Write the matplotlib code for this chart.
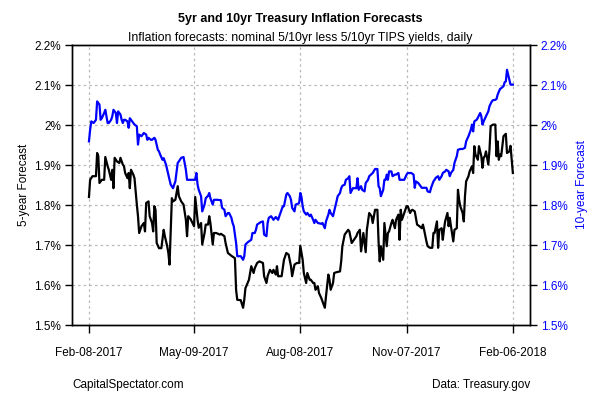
import numpy as np
import matplotlib
matplotlib.use("Agg")
import matplotlib.pyplot as plt
import matplotlib.dates as mdates
from matplotlib.ticker import FuncFormatter

plt.rcParams['font.family'] = ['Liberation Sans', 'DejaVu Sans']

start_date = np.datetime64('2017-02-08')

# 5-year forecast: day offsets from start and values (%)
days_5y = [0, 1, 3, 6, 7, 8, 9, 11, 13, 14, 16, 17, 19, 20, 21, 22, 24, 26, 27, 29,
           30, 31, 33, 34, 35, 36, 38, 39, 41, 42, 43, 45, 47, 48, 49, 51, 52, 54, 55, 56,
           57, 58, 60, 62, 64, 65, 67, 68, 69, 71, 72, 74, 76, 77, 79, 81, 83, 84, 85, 87,
           90, 91, 93, 94, 96, 97, 99, 100, 102, 103, 104, 106, 107, 109, 112, 113, 116, 117, 119, 122,
           125, 126, 127, 130, 132, 133, 134, 137, 139, 141, 142, 144, 146, 149, 150, 152, 153, 155, 157, 158,
           160, 161, 162, 165, 167, 169, 171, 173, 174, 176, 178, 180, 181, 183, 184, 186, 187, 189, 190, 192,
           193, 194, 196, 197, 199, 200, 202, 203, 205, 206, 207, 209, 210, 212, 215, 216, 217, 219, 222, 223,
           225, 226, 229, 230, 232, 233, 234, 235, 237, 238, 240, 242, 243, 245, 247, 248, 249, 250, 252, 253,
           255, 256, 257, 259, 260, 262, 263, 265, 266, 267, 268, 270, 272, 273, 275, 276, 277, 279, 281, 283,
           285, 286, 287, 289, 290, 292, 294, 295, 296, 298, 299, 300, 302, 303, 304, 305, 307, 308, 309, 310,
           312, 313, 315, 316, 317, 318, 320, 321, 322, 323, 325, 326, 328, 329, 330, 331, 333, 334, 336, 337,
           338, 339, 340, 342, 343, 344, 346, 348, 349, 350, 351, 352, 353, 355, 357, 358, 360, 361, 362, 363]
vals_5y = [1.820, 1.863, 1.872, 1.872, 1.930, 1.922, 1.855, 1.863, 1.863, 1.920, 1.897, 1.888, 1.863, 1.888, 1.842, 1.918, 1.909, 1.905, 1.918, 1.901,
           1.897, 1.880, 1.867, 1.880, 1.842, 1.888, 1.876, 1.867, 1.801, 1.772, 1.730, 1.747, 1.755, 1.734, 1.805, 1.809, 1.772, 1.755, 1.734, 1.797,
           1.788, 1.705, 1.692, 1.692, 1.738, 1.722, 1.697, 1.680, 1.651, 1.817, 1.809, 1.813, 1.847, 1.822, 1.809, 1.801, 1.763, 1.722, 1.772, 1.765,
           1.747, 1.820, 1.763, 1.743, 1.755, 1.701, 1.730, 1.751, 1.751, 1.772, 1.755, 1.701, 1.730, 1.730, 1.726, 1.728, 1.722, 1.705, 1.680, 1.673,
           1.667, 1.588, 1.563, 1.562, 1.543, 1.563, 1.592, 1.613, 1.647, 1.630, 1.642, 1.655, 1.659, 1.655, 1.622, 1.605, 1.622, 1.638, 1.630, 1.638,
           1.626, 1.647, 1.622, 1.622, 1.663, 1.680, 1.676, 1.647, 1.622, 1.651, 1.655, 1.655, 1.698, 1.663, 1.630, 1.605, 1.630, 1.613, 1.613, 1.605,
           1.605, 1.588, 1.597, 1.580, 1.567, 1.559, 1.543, 1.572, 1.626, 1.613, 1.588, 1.605, 1.630, 1.632, 1.634, 1.659, 1.697, 1.726, 1.738, 1.734,
           1.705, 1.709, 1.722, 1.730, 1.738, 1.684, 1.705, 1.730, 1.682, 1.738, 1.780, 1.772, 1.755, 1.788, 1.788, 1.709, 1.659, 1.697, 1.663, 1.755,
           1.697, 1.730, 1.734, 1.755, 1.763, 1.742, 1.763, 1.776, 1.713, 1.788, 1.763, 1.780, 1.797, 1.797, 1.780, 1.786, 1.788, 1.784, 1.751, 1.747,
           1.742, 1.751, 1.738, 1.709, 1.697, 1.693, 1.693, 1.730, 1.730, 1.759, 1.693, 1.738, 1.742, 1.713, 1.738, 1.759, 1.780, 1.747, 1.768, 1.747,
           1.709, 1.738, 1.742, 1.838, 1.813, 1.797, 1.780, 1.759, 1.822, 1.859, 1.872, 1.884, 1.897, 1.880, 1.947, 1.926, 1.913, 1.947, 1.922, 1.893,
           1.918, 1.922, 1.934, 1.901, 1.938, 1.997, 2.001, 2.001, 1.922, 1.959, 1.913, 1.926, 1.922, 1.972, 1.978, 1.930, 1.934, 1.948, 1.913, 1.880]

# 10-year forecast: day offsets from start and values (%)
days_10y = [0, 1, 2, 4, 6, 7, 9, 10, 11, 13, 14, 16, 17, 19, 20, 21, 23, 24, 25, 27,
            28, 29, 30, 31, 33, 34, 35, 36, 38, 39, 41, 42, 43, 45, 47, 49, 50, 51, 53, 54,
            56, 57, 59, 60, 61, 63, 64, 66, 67, 69, 70, 72, 73, 74, 76, 77, 79, 81, 83, 84,
            87, 91, 92, 93, 94, 96, 97, 99, 100, 102, 103, 104, 106, 107, 110, 113, 114, 116, 117, 119,
            120, 122, 123, 124, 126, 127, 130, 132, 133, 134, 136, 139, 140, 142, 143, 144, 146, 147, 149, 150,
            152, 153, 154, 156, 158, 160, 162, 163, 164, 166, 167, 169, 170, 172, 173, 174, 176, 177, 179, 180,
            181, 182, 183, 184, 186, 187, 189, 190, 192, 193, 194, 196, 199, 200, 202, 203, 205, 206, 207, 209,
            210, 212, 213, 215, 216, 217, 219, 220, 222, 223, 224, 226, 227, 229, 230, 231, 233, 234, 236, 237,
            239, 240, 243, 245, 247, 248, 249, 250, 252, 253, 254, 255, 256, 257, 259, 260, 262, 263, 265, 266,
            269, 270, 272, 273, 275, 276, 278, 279, 280, 282, 283, 285, 286, 289, 290, 292, 293, 295, 296, 297,
            299, 300, 302, 303, 305, 306, 308, 309, 310, 312, 313, 315, 316, 318, 319, 320, 322, 323, 325, 326,
            327, 328, 329, 330, 332, 333, 335, 336, 337, 338, 340, 342, 343, 345, 346, 348, 349, 350, 352, 353,
            355, 356, 357, 358, 359, 360, 361, 363]
vals_10y = [1.959, 1.988, 2.009, 2.005, 2.013, 2.059, 2.051, 2.013, 2.017, 2.030, 2.038, 2.005, 2.005, 2.013, 2.022, 2.038, 2.030, 2.005, 2.034, 2.026,
            2.013, 2.005, 2.013, 2.013, 2.009, 1.993, 2.017, 2.013, 2.005, 2.001, 1.997, 1.951, 1.976, 1.972, 1.980, 1.976, 1.963, 1.968, 1.963, 1.963,
            1.968, 1.963, 1.938, 1.934, 1.926, 1.913, 1.917, 1.901, 1.888, 1.863, 1.851, 1.842, 1.851, 1.859, 1.905, 1.909, 1.918, 1.920, 1.888, 1.863,
            1.863, 1.863, 1.880, 1.851, 1.838, 1.822, 1.784, 1.801, 1.817, 1.823, 1.830, 1.817, 1.801, 1.813, 1.813, 1.812, 1.793, 1.788, 1.772, 1.780,
            1.780, 1.768, 1.755, 1.747, 1.705, 1.672, 1.672, 1.663, 1.672, 1.701, 1.707, 1.713, 1.730, 1.730, 1.738, 1.751, 1.755, 1.757, 1.759, 1.726,
            1.722, 1.755, 1.768, 1.772, 1.763, 1.770, 1.763, 1.772, 1.780, 1.797, 1.797, 1.826, 1.830, 1.822, 1.813, 1.793, 1.784, 1.801, 1.803, 1.805,
            1.830, 1.820, 1.797, 1.784, 1.776, 1.780, 1.772, 1.776, 1.763, 1.755, 1.763, 1.755, 1.753, 1.755, 1.742, 1.759, 1.776, 1.788, 1.780, 1.772,
            1.784, 1.809, 1.822, 1.830, 1.842, 1.848, 1.851, 1.863, 1.867, 1.872, 1.830, 1.842, 1.842, 1.842, 1.867, 1.838, 1.847, 1.838, 1.834, 1.855,
            1.863, 1.872, 1.880, 1.890, 1.890, 1.847, 1.842, 1.822, 1.838, 1.863, 1.863, 1.876, 1.863, 1.884, 1.884, 1.872, 1.876, 1.876, 1.880, 1.863,
            1.863, 1.863, 1.876, 1.880, 1.880, 1.880, 1.876, 1.843, 1.859, 1.855, 1.851, 1.843, 1.843, 1.843, 1.834, 1.832, 1.843, 1.859, 1.863, 1.868,
            1.872, 1.863, 1.872, 1.880, 1.884, 1.888, 1.884, 1.872, 1.880, 1.888, 1.905, 1.922, 1.938, 1.940, 1.940, 1.940, 1.943, 1.959, 1.972, 1.980,
            1.988, 2.001, 1.984, 2.009, 2.013, 2.018, 2.030, 2.022, 2.001, 2.009, 2.022, 2.034, 2.047, 2.059, 2.062, 2.063, 2.065, 2.076, 2.090, 2.092,
            2.097, 2.107, 2.109, 2.138, 2.126, 2.113, 2.101, 2.101]

tick_dates = ['2017-02-08', '2017-05-09', '2017-08-08', '2017-11-07', '2018-02-06']
tick_labels = ['Feb-08-2017', 'May-09-2017', 'Aug-08-2017', 'Nov-07-2017', 'Feb-06-2018']
y_ticks = [1.5, 1.6, 1.7, 1.8, 1.9, 2.0, 2.1, 2.2]

dates_5y = start_date + np.array(days_5y).astype('timedelta64[D]')
dates_10y = start_date + np.array(days_10y).astype('timedelta64[D]')
tick_d = np.array(tick_dates, dtype='datetime64[D]')

fig = plt.figure(figsize=(6, 4), dpi=100)
ax = fig.add_axes([0.12, 0.1875, 0.763, 0.70])
ax2 = ax.twinx()

grid_kw = dict(color='#b8b8b8', linestyle=(0, (2, 2.5)), linewidth=0.9)
ax.set_axisbelow(True)
for t in tick_d:
    ax.axvline(mdates.date2num(t), **grid_kw, zorder=0)
for y in y_ticks[1:-1]:
    ax.axhline(y, **grid_kw, zorder=0)

ax.plot(mdates.date2num(dates_10y), vals_10y, color='#0000ff', lw=1.6, zorder=3)
ax.plot(mdates.date2num(dates_5y), vals_5y, color='black', lw=1.6, zorder=4)

x0 = mdates.date2num(tick_d[0]); x1 = mdates.date2num(tick_d[-1])
pad = (x1 - x0) * 0.04
ax.set_xlim(x0 - pad, x1 + pad)
ax.set_ylim(1.5, 2.2)
ax2.set_ylim(1.5, 2.2)

fmt = FuncFormatter(lambda v, p: ('%g' % round(v, 2)) + '%')
ax.set_yticks(y_ticks)
ax.yaxis.set_major_formatter(fmt)
ax2.set_yticks(y_ticks)
ax2.yaxis.set_major_formatter(fmt)
ax.set_xticks(mdates.date2num(tick_d))
ax.set_xticklabels(tick_labels)

ax.tick_params(axis='y', length=5, width=1, labelsize=8.5, pad=3)
ax.tick_params(axis='x', length=6, width=1, labelsize=8.5, pad=10)
ax2.tick_params(axis='y', length=5, width=1, labelsize=8.5, pad=3, labelcolor='#0000ff')

for a in (ax, ax2):
    for s in a.spines.values():
        s.set_linewidth(1.0)
        s.set_color('black')

ax.set_ylabel('5-year Forecast', fontsize=8.5, labelpad=3)
ax2.set_ylabel('10-year Forecast', fontsize=8.5, color='#0000ff', labelpad=6)

fig.text(0.5, 0.952, '5yr and 10yr Treasury Inflation Forecasts', ha='center', va='center',
         fontsize=9, fontweight='bold')
fig.text(0.5, 0.905, 'Inflation forecasts: nominal 5/10yr less 5/10yr TIPS yields, daily',
         ha='center', va='center', fontsize=8.8)
fig.text(0.12, 0.037, 'CapitalSpectator.com', ha='left', va='center', fontsize=8.5)
fig.text(0.883, 0.037, 'Data: Treasury.gov', ha='right', va='center', fontsize=8.5)

fig.savefig('out.png', dpi=100)
